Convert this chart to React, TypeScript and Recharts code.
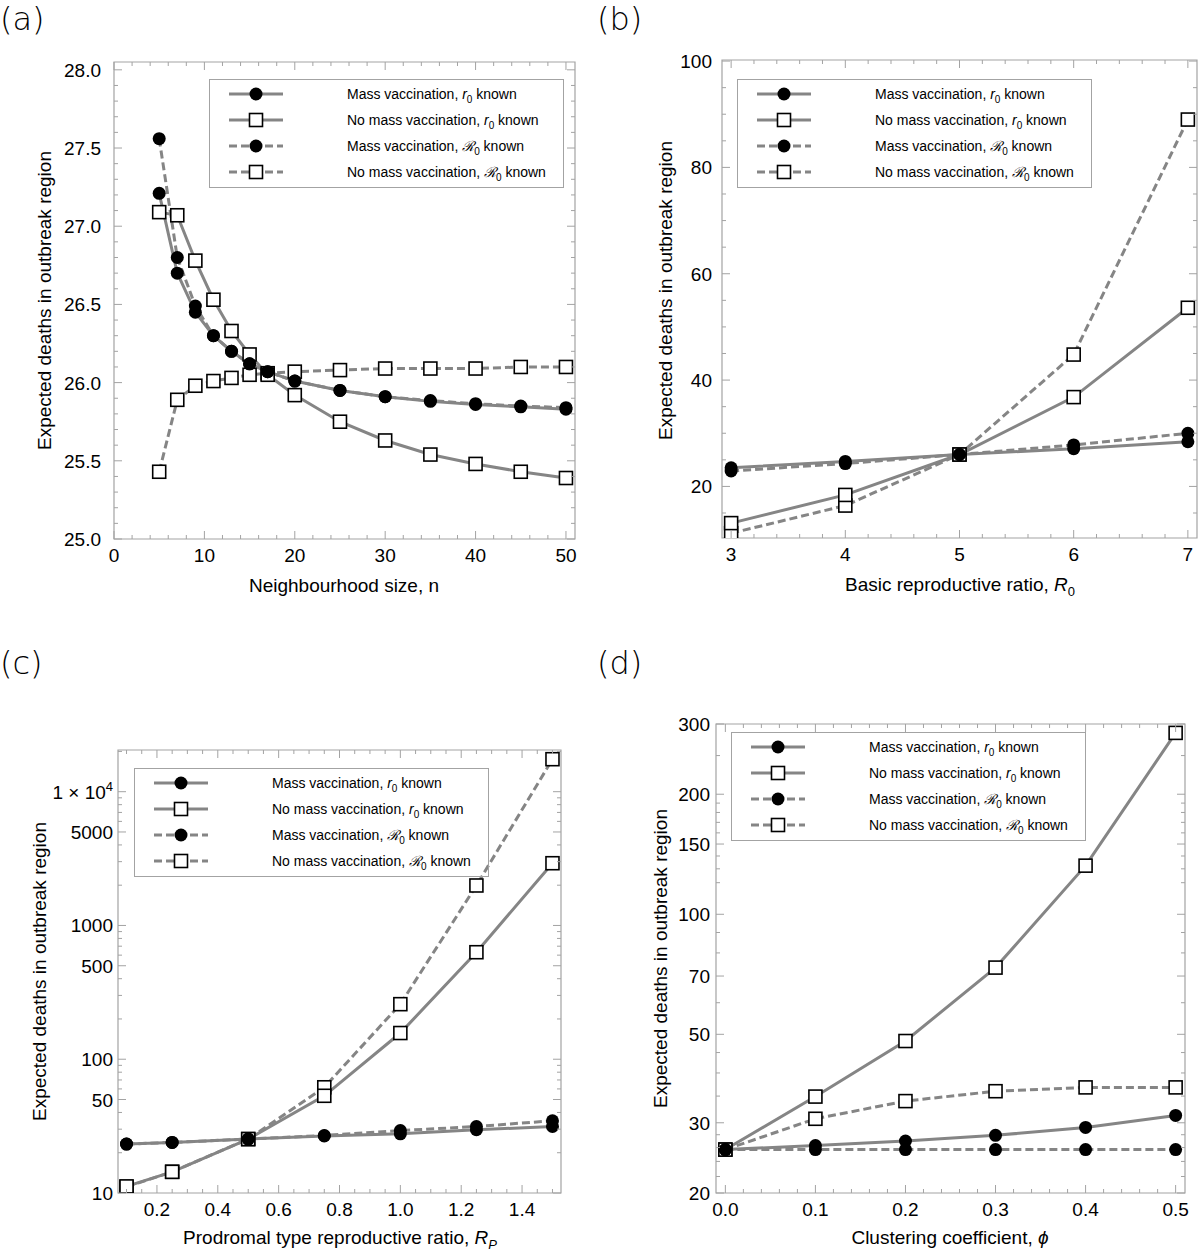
import React from "react";
import { LineChart, Line, XAxis, YAxis, ReferenceArea } from "recharts";

const FONT = "'Liberation Sans', Arial, Helvetica, sans-serif";
const LINE = "#858585";
const FRAME = "#a3a3a3";

// (a) neighbourhood size
const nSizes = [5, 7, 9, 11, 13, 15, 17, 20, 25, 30, 35, 40, 45, 50];
const aMassR0 = [27.21, 26.7, 26.45, 26.3, 26.2, 26.12, 26.07, 26.01, 25.95, 25.91, 25.88, 25.86, 25.845, 25.83];
const aNoMassR0 = [27.09, 27.07, 26.78, 26.53, 26.33, 26.18, 26.05, 25.92, 25.75, 25.63, 25.54, 25.48, 25.43, 25.39];
const aMassBigR0 = [27.56, 26.8, 26.49, 26.3, 26.2, 26.12, 26.07, 26.01, 25.95, 25.91, 25.885, 25.865, 25.85, 25.84];
const aNoMassBigR0 = [25.43, 25.89, 25.98, 26.01, 26.03, 26.05, 26.06, 26.07, 26.08, 26.09, 26.09, 26.09, 26.1, 26.1];

// (b) basic reproductive ratio
const bR0 = [3, 4, 5, 6, 7];
const bMassR0 = [23.5, 24.7, 26.0, 27.1, 28.4];
const bNoMassR0 = [13.1, 18.4, 26.0, 36.8, 53.6];
const bMassBigR0 = [22.9, 24.3, 26.0, 27.8, 30.0];
const bNoMassBigR0 = [11.2, 16.4, 26.0, 44.8, 89.0];

// (c) prodromal type reproductive ratio
const cRp = [0.1, 0.25, 0.5, 0.75, 1.0, 1.25, 1.5];
const cMassR0 = [23.2, 23.9, 25.3, 26.7, 27.7, 29.7, 31.4];
const cNoMassR0 = [11.2, 14.4, 25.3, 53.3, 157, 631, 2920];
const cMassBigR0 = [23.2, 23.9, 25.3, 26.9, 29.3, 31.4, 34.7];
const cNoMassBigR0 = [11.1, 14.4, 25.3, 61.7, 258, 1990, 17500];

// (d) clustering coefficient
const dPhi = [0, 0.1, 0.2, 0.3, 0.4, 0.5];
const dMassR0 = [25.7, 26.3, 27.0, 27.9, 29.2, 31.3];
const dNoMassR0 = [25.7, 34.9, 48.1, 73.5, 132.4, 285];
const dMassBigR0 = [25.7, 25.7, 25.7, 25.7, 25.7, 25.7];
const dNoMassBigR0 = [25.7, 30.7, 34.0, 36.0, 36.8, 36.8];

// tick labels
const aXTicks = [0, 10, 20, 30, 40, 50];
const aYTicks = [25, 25.5, 26, 26.5, 27, 27.5, 28];
const bXTicks = [3, 4, 5, 6, 7];
const bYTicks = [20, 40, 60, 80, 100];
const cXTicks = [0.2, 0.4, 0.6, 0.8, 1.0, 1.2, 1.4];
const cYTicks = [10, 50, 100, 500, 1000, 5000, 10000];
const dXTicks = [0, 0.1, 0.2, 0.3, 0.4, 0.5];
const dYTicks = [20, 30, 50, 70, 100, 150, 200, 300];

const cYMinor = [20, 30, 40, 60, 70, 80, 90, 200, 300, 400, 600, 700, 800, 900, 2000, 3000, 4000, 6000, 7000, 8000, 9000, 20000];
const dYMinor = [22, 24, 26, 28, 35, 40, 45, 60, 80, 90, 120, 130, 140, 160, 170, 180, 190, 250];

const steps = (a: number, b: number, s: number) => {
  const out: number[] = [];
  for (let v = a; v <= b + 1e-9; v += s) out.push(Math.round(v * 10000) / 10000);
  return out;
};
const near = (list: number[], v: number) => list.some((m) => Math.abs(m - v) < 1e-6);
const minorOf = (all: number[], major: number[]) => all.filter((v) => !near(major, v));

const PAD_L = 90;
const PAD_T = 10;
const PAD_R = 10;
const PAD_B = 50;

const squareDot = (p: any) =>
  p.cx == null || p.cy == null ? null : (
    <rect key={`sq-${p.index}`} x={p.cx - 6.5} y={p.cy - 6.5} width={13} height={13} fill="#fff" stroke="#000" strokeWidth={1.6} />
  );
const circleDot = (p: any) =>
  p.cx == null || p.cy == null ? null : <circle key={`ci-${p.index}`} cx={p.cx} cy={p.cy} r={6.5} fill="#000" />;

function Panel({ cfg }: { cfg: any }) {
  const { left, top, w, h } = cfg;
  const plotBottom = PAD_T + h;
  const plotRight = PAD_L + w;
  const data = cfg.xs.map((x: number, i: number) => ({
    x,
    m1: cfg.series[0][i],
    n1: cfg.series[1][i],
    m2: cfg.series[2][i],
    n2: cfg.series[3][i],
  }));

  const XTick = (p: any) => {
    const v = p.payload.value;
    const major = near(cfg.xMajor, v);
    const len = major ? 8 : 4;
    const x = p.x;
    return (
      <g>
        <line x1={x} x2={x} y1={plotBottom} y2={plotBottom - len} stroke={FRAME} />
        <line x1={x} x2={x} y1={PAD_T} y2={PAD_T + len} stroke={FRAME} />
        {major && (
          <text x={x} y={plotBottom + 23} textAnchor="middle" fontSize={19} fontFamily={FONT} fill="#000">
            {cfg.xFmt(v)}
          </text>
        )}
      </g>
    );
  };

  const YTick = (p: any) => {
    const v = p.payload.value;
    const major = near(cfg.yMajor, v);
    const len = major ? 8 : 4;
    const y = p.y;
    return (
      <g>
        <line x1={PAD_L} x2={PAD_L + len} y1={y} y2={y} stroke={FRAME} />
        <line x1={plotRight} x2={plotRight - len} y1={y} y2={y} stroke={FRAME} />
        {major && (
          <text x={PAD_L - cfg.yGap} y={y + 7} textAnchor="end" fontSize={19} fontFamily={FONT} fill="#000">
            {v === 10000 ? (
              <>
                <tspan>1 × 10</tspan>
                <tspan dy={-8} fontSize={13}>4</tspan>
              </>
            ) : (
              cfg.yFmt(v)
            )}
          </text>
        )}
      </g>
    );
  };

  const dash = "8 4";
  return (
    <div style={{ position: "absolute", left: left - PAD_L, top: top - PAD_T }}>
      <LineChart width={w + PAD_L + PAD_R} height={h + PAD_T + PAD_B} data={data} margin={{ top: PAD_T, right: PAD_R, left: 0, bottom: 0 }}>
        <XAxis
          dataKey="x"
          type="number"
          domain={cfg.xDomain}
          allowDataOverflow
          ticks={[...cfg.xMajor, ...cfg.xMinor]}
          interval={0}
          tick={(p: any) => <XTick {...p} />}
          tickLine={false}
          axisLine={false}
          tickSize={0}
          height={PAD_B}
        />
        <YAxis
          type="number"
          scale={cfg.log ? "log" : "linear"}
          domain={cfg.yDomain}
          allowDataOverflow
          ticks={[...cfg.yMajor, ...cfg.yMinor]}
          interval={0}
          tick={(p: any) => <YTick {...p} />}
          tickLine={false}
          axisLine={false}
          tickSize={0}
          width={PAD_L}
        />
        <ReferenceArea
          x1={cfg.xDomain[0]}
          x2={cfg.xDomain[1]}
          y1={cfg.yDomain[0]}
          y2={cfg.yDomain[1]}
          fill="none"
          fillOpacity={0}
          stroke={FRAME}
          strokeWidth={1.2}
        />
        <Line type="linear" dataKey="m1" stroke={LINE} strokeWidth={3} dot={false} activeDot={false} isAnimationActive={false} />
        <Line type="linear" dataKey="n1" stroke={LINE} strokeWidth={3} dot={false} activeDot={false} isAnimationActive={false} />
        <Line type="linear" dataKey="m2" stroke={LINE} strokeWidth={3} strokeDasharray={dash} dot={false} activeDot={false} isAnimationActive={false} />
        <Line type="linear" dataKey="n2" stroke={LINE} strokeWidth={3} strokeDasharray={dash} dot={false} activeDot={false} isAnimationActive={false} />
        <Line type="linear" dataKey="n2" stroke="none" dot={squareDot} activeDot={false} isAnimationActive={false} />
        <Line type="linear" dataKey="n1" stroke="none" dot={squareDot} activeDot={false} isAnimationActive={false} />
        <Line type="linear" dataKey="m2" stroke="none" dot={circleDot} activeDot={false} isAnimationActive={false} />
        <Line type="linear" dataKey="m1" stroke="none" dot={circleDot} activeDot={false} isAnimationActive={false} />
      </LineChart>
    </div>
  );
}

const sub = (t: React.ReactNode, size = 10) => (
  <span style={{ fontSize: size, position: "relative", top: size * 0.35 }}>{t}</span>
);

const legendItems = [
  { dashed: false, square: false, label: <>Mass vaccination, <i>r</i>{sub("0")} known</> },
  { dashed: false, square: true, label: <>No mass vaccination, <i>r</i>{sub("0")} known</> },
  { dashed: true, square: false, label: <>Mass vaccination, <i>ℛ</i>{sub("0")} known</> },
  { dashed: true, square: true, label: <>No mass vaccination, <i>ℛ</i>{sub("0")} known</> },
];

function LegendBox({ left, top }: { left: number; top: number }) {
  return (
    <div style={{ position: "absolute", left, top, width: 355, height: 109, border: `1.2px solid ${FRAME}`, boxSizing: "border-box" }}>
      {legendItems.map((it, i) => (
        <div key={i} style={{ position: "absolute", left: 0, top: 4 + i * 26, width: "100%", height: 20 }}>
          <svg width={80} height={20} style={{ position: "absolute", left: 0, top: 0 }}>
            <line x1={19} x2={73} y1={10} y2={10} stroke={LINE} strokeWidth={3} strokeDasharray={it.dashed ? "8 4" : undefined} />
            {it.square ? (
              <rect x={39.5} y={3.5} width={13} height={13} fill="#fff" stroke="#000" strokeWidth={1.6} />
            ) : (
              <circle cx={46} cy={10} r={6.5} fill="#000" />
            )}
          </svg>
          <span style={{ position: "absolute", left: 137, top: 0, lineHeight: "20px", fontSize: 14, fontFamily: FONT, whiteSpace: "nowrap" }}>
            {it.label}
          </span>
        </div>
      ))}
    </div>
  );
}

const titleStyle: React.CSSProperties = {
  position: "absolute",
  width: 420,
  textAlign: "center",
  fontSize: 19,
  lineHeight: "19px",
  fontFamily: FONT,
  whiteSpace: "nowrap",
};

function XTitle({ cx, baseline, children }: any) {
  return <div style={{ ...titleStyle, left: cx - 210, top: baseline - 16 }}>{children}</div>;
}

function YTitle({ cx, cy, children }: any) {
  return (
    <div style={{ ...titleStyle, left: cx - 210, top: cy - 9.5, transform: "rotate(-90deg)", transformOrigin: "50% 50%" }}>
      {children}
    </div>
  );
}

function PanelLetter({ left, top, text }: any) {
  return (
    <div
      style={{
        position: "absolute",
        left,
        top,
        fontSize: 32,
        lineHeight: "38px",
        fontFamily: "'DejaVu Sans', sans-serif",
        fontWeight: 200,
      }}
    >
      {text}
    </div>
  );
}

const panels = [
  {
    left: 114, top: 62, w: 461, h: 477,
    xs: nSizes, series: [aMassR0, aNoMassR0, aMassBigR0, aNoMassBigR0],
    xDomain: [0, 51], yDomain: [25, 28.05], log: false,
    xMajor: aXTicks, xMinor: minorOf(steps(0, 50, 2), aXTicks),
    yMajor: aYTicks, yMinor: minorOf(steps(25, 28, 0.1), aYTicks),
    xFmt: (v: number) => String(v), yFmt: (v: number) => v.toFixed(1), yGap: 13,
  },
  {
    left: 722, top: 60, w: 475, h: 478,
    xs: bR0, series: [bMassR0, bNoMassR0, bMassBigR0, bNoMassBigR0],
    xDomain: [2.92, 7.08], yDomain: [10.3, 100.2], log: false,
    xMajor: bXTicks, xMinor: minorOf(steps(3, 7, 0.2), bXTicks),
    yMajor: bYTicks, yMinor: minorOf(steps(15, 100, 5), bYTicks),
    xFmt: (v: number) => String(v), yFmt: (v: number) => String(v), yGap: 10,
  },
  {
    left: 118, top: 750, w: 443, h: 443,
    xs: cRp, series: [cMassR0, cNoMassR0, cMassBigR0, cNoMassBigR0],
    xDomain: [0.072, 1.528], yDomain: [10, 20500], log: true,
    xMajor: cXTicks, xMinor: minorOf(steps(0.1, 1.5, 0.05), cXTicks),
    yMajor: cYTicks, yMinor: cYMinor,
    xFmt: (v: number) => v.toFixed(1), yFmt: (v: number) => String(v), yGap: 5,
  },
  {
    left: 716, top: 724, w: 469, h: 469,
    xs: dPhi, series: [dMassR0, dNoMassR0, dMassBigR0, dNoMassBigR0],
    xDomain: [-0.0104, 0.5104], yDomain: [20, 300], log: true,
    xMajor: dXTicks, xMinor: minorOf(steps(0, 0.5, 0.02), dXTicks),
    yMajor: dYTicks, yMinor: dYMinor,
    xFmt: (v: number) => v.toFixed(1), yFmt: (v: number) => String(v), yGap: 6,
  },
];

export default function App() {
  return (
    <div style={{ position: "absolute", left: 0, top: 0, width: 1200, height: 1251, background: "#fff", overflow: "hidden" }}>
      {panels.map((cfg, i) => (
        <Panel key={i} cfg={cfg} />
      ))}

      <LegendBox left={209} top={79} />
      <LegendBox left={737} top={79} />
      <LegendBox left={134} top={768} />
      <LegendBox left={731} top={732} />

      <XTitle cx={344} baseline={592}>Neighbourhood size, n</XTitle>
      <XTitle cx={960} baseline={591}>
        Basic reproductive ratio, <i>R</i>
        {sub("0", 13)}
      </XTitle>
      <XTitle cx={340} baseline={1244}>
        Prodromal type reproductive ratio, <i>R</i>
        {sub(<i>P</i>, 13)}
      </XTitle>
      <XTitle cx={950} baseline={1244}>
        Clustering coefficient, <i>ϕ</i>
      </XTitle>

      <YTitle cx={43.5} cy={300}>Expected deaths in outbreak region</YTitle>
      <YTitle cx={665} cy={290}>Expected deaths in outbreak region</YTitle>
      <YTitle cx={39} cy={971}>Expected deaths in outbreak region</YTitle>
      <YTitle cx={660} cy={958}>Expected deaths in outbreak region</YTitle>

      <PanelLetter left={0} top={0} text="(a)" />
      <PanelLetter left={597} top={0} text="(b)" />
      <PanelLetter left={0} top={644} text="(c)" />
      <PanelLetter left={597} top={644} text="(d)" />
    </div>
  );
}
